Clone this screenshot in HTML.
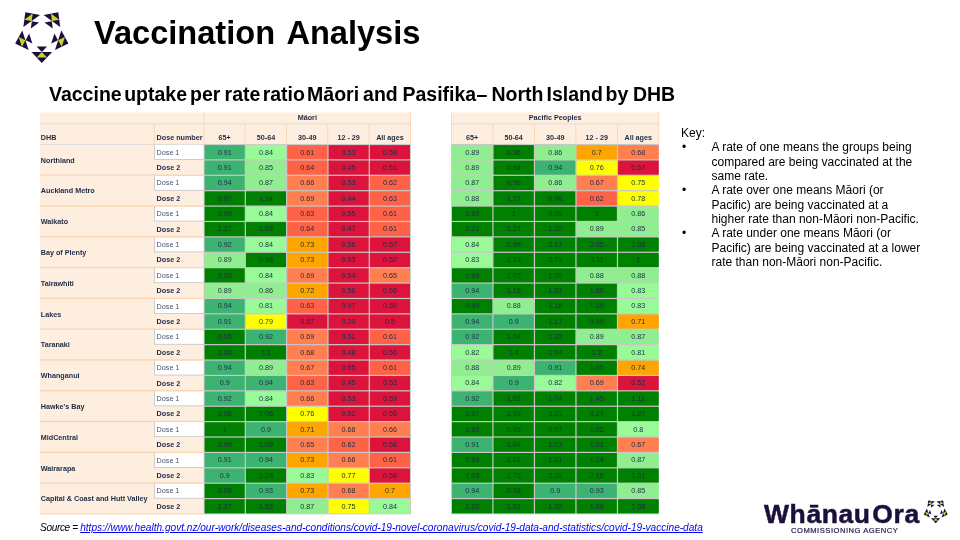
<!DOCTYPE html>
<html><head><meta charset="utf-8"><title>Vaccination Analysis</title>
<style>
html,body{margin:0;padding:0;background:#fff;}
body{width:960px;height:540px;position:relative;overflow:hidden;font-family:"Liberation Sans",sans-serif;color:#000;}
svg text{font-family:"Liberation Sans",sans-serif;font-size:7.2px;fill:#1C2B45;}
svg text.v{text-anchor:middle;}
svg text.b{font-weight:bold;}
svg text.d1{fill:#44536E;}
.abs{position:absolute;white-space:nowrap;will-change:transform;}
#title{left:93.5px;top:13.3px;font-size:32.6px;font-weight:bold;line-height:40px;word-spacing:3.5px;}
#sub{left:49px;top:82px;font-size:19.5px;font-weight:bold;line-height:24px;}
#sub span{position:absolute;top:0;}
#key{left:681px;top:125.6px;font-size:12px;line-height:14.35px;}
#key .li{position:relative;padding-left:30.5px;}
#key .li i{position:absolute;left:1px;top:0;font-style:normal;}
#src{left:40px;top:521.2px;font-size:10.1px;line-height:14px;font-style:italic;letter-spacing:-0.35px;}
#src span{position:absolute;left:40.2px;top:0;color:#0000F0;text-decoration:underline;letter-spacing:0;}
#wo{left:764px;top:498px;font-size:26.5px;font-weight:bold;line-height:32px;color:#1B0F3B;letter-spacing:0.6px;word-spacing:-6.3px;-webkit-text-stroke:0.5px #1B0F3B;}
#ca{left:791px;top:525.5px;font-size:7.6px;line-height:10px;color:#2A2050;letter-spacing:0.52px;-webkit-text-stroke:0.2px #2A2050;}
</style></head><body>
<svg width="960" height="540" viewBox="0 0 960 540" style="position:absolute;left:0;top:0;will-change:transform">
<g transform="translate(41.8 34.9) scale(1)">
<g transform="rotate(0)">
<polygon points="-10.3,17.2 10.3,17.2 0,28" fill="#1B0F3B"/>
<polygon points="0,17.2 -5.15,22.6 5.15,22.6" fill="#C9D42B"/>
<polygon points="-5.15,11.6 5.15,11.6 0,17" fill="#1B0F3B"/>
</g>
<g transform="rotate(72)">
<polygon points="-10.3,17.2 10.3,17.2 0,28" fill="#1B0F3B"/>
<polygon points="0,17.2 -5.15,22.6 5.15,22.6" fill="#C9D42B"/>
<polygon points="-5.15,11.6 5.15,11.6 0,17" fill="#1B0F3B"/>
</g>
<g transform="rotate(144)">
<polygon points="-10.3,17.2 10.3,17.2 0,28" fill="#1B0F3B"/>
<polygon points="0,17.2 -5.15,22.6 5.15,22.6" fill="#C9D42B"/>
<polygon points="-5.15,11.6 5.15,11.6 0,17" fill="#1B0F3B"/>
</g>
<g transform="rotate(216)">
<polygon points="-10.3,17.2 10.3,17.2 0,28" fill="#1B0F3B"/>
<polygon points="0,17.2 -5.15,22.6 5.15,22.6" fill="#C9D42B"/>
<polygon points="-5.15,11.6 5.15,11.6 0,17" fill="#1B0F3B"/>
</g>
<g transform="rotate(288)">
<polygon points="-10.3,17.2 10.3,17.2 0,28" fill="#1B0F3B"/>
<polygon points="0,17.2 -5.15,22.6 5.15,22.6" fill="#C9D42B"/>
<polygon points="-5.15,11.6 5.15,11.6 0,17" fill="#1B0F3B"/>
</g>
</g>
<g transform="translate(935.7 510.6) scale(0.45)">
<g transform="rotate(0)">
<polygon points="-10.3,17.2 10.3,17.2 0,28" fill="#1B0F3B"/>
<polygon points="0,17.2 -5.15,22.6 5.15,22.6" fill="#C9D42B"/>
<polygon points="-5.15,11.6 5.15,11.6 0,17" fill="#1B0F3B"/>
</g>
<g transform="rotate(72)">
<polygon points="-10.3,17.2 10.3,17.2 0,28" fill="#1B0F3B"/>
<polygon points="0,17.2 -5.15,22.6 5.15,22.6" fill="#C9D42B"/>
<polygon points="-5.15,11.6 5.15,11.6 0,17" fill="#1B0F3B"/>
</g>
<g transform="rotate(144)">
<polygon points="-10.3,17.2 10.3,17.2 0,28" fill="#1B0F3B"/>
<polygon points="0,17.2 -5.15,22.6 5.15,22.6" fill="#C9D42B"/>
<polygon points="-5.15,11.6 5.15,11.6 0,17" fill="#1B0F3B"/>
</g>
<g transform="rotate(216)">
<polygon points="-10.3,17.2 10.3,17.2 0,28" fill="#1B0F3B"/>
<polygon points="0,17.2 -5.15,22.6 5.15,22.6" fill="#C9D42B"/>
<polygon points="-5.15,11.6 5.15,11.6 0,17" fill="#1B0F3B"/>
</g>
<g transform="rotate(288)">
<polygon points="-10.3,17.2 10.3,17.2 0,28" fill="#1B0F3B"/>
<polygon points="0,17.2 -5.15,22.6 5.15,22.6" fill="#C9D42B"/>
<polygon points="-5.15,11.6 5.15,11.6 0,17" fill="#1B0F3B"/>
</g>
</g>
<rect x="40" y="112.5" width="370.6" height="401.5" fill="#FDEEE0"/>
<rect x="40" y="123.3" width="370.6" height="1" fill="#DCDCDC"/>
<rect x="40" y="143.9" width="370.6" height="1" fill="#DCDCDC"/>
<rect x="203.4" y="112.5" width="0.8" height="11.1" fill="#FBD3AE"/>
<rect x="410" y="112.5" width="0.8" height="32" fill="#FBD3AE"/>
<rect x="153.8" y="124.6" width="0.8" height="19.9" fill="#FBD3AE"/>
<rect x="203.4" y="124.6" width="0.8" height="19.9" fill="#FBD3AE"/>
<rect x="244.72" y="124.6" width="0.8" height="19.9" fill="#FBD3AE"/>
<rect x="286.04" y="124.6" width="0.8" height="19.9" fill="#FBD3AE"/>
<rect x="327.36" y="124.6" width="0.8" height="19.9" fill="#FBD3AE"/>
<rect x="368.68" y="124.6" width="0.8" height="19.9" fill="#FBD3AE"/>
<rect x="203.7" y="144.2" width="207.2" height="370.1" fill="#C8C8C8"/>
<rect x="204.6" y="145.1" width="40.12" height="14.2" fill="#3CB371"/>
<text x="224.66" y="154.5" class="v">0.91</text>
<rect x="245.92" y="145.1" width="40.12" height="14.2" fill="#98FB98"/>
<text x="265.98" y="154.5" class="v">0.84</text>
<rect x="287.24" y="145.1" width="40.12" height="14.2" fill="#FF6347"/>
<text x="307.3" y="154.5" class="v">0.61</text>
<rect x="328.56" y="145.1" width="40.12" height="14.2" fill="#DC143C"/>
<text x="348.62" y="154.5" class="v">0.53</text>
<rect x="369.88" y="145.1" width="40.12" height="14.2" fill="#DC143C"/>
<text x="389.94" y="154.5" class="v">0.58</text>
<rect x="154.1" y="144.7" width="49.9" height="15.2" fill="#C4C4C4"/>
<rect x="154.9" y="144.8" width="48.8" height="14.3" fill="#FFFFFF"/>
<text x="156.6" y="154.7" class="d1">Dose 1</text>
<text x="40.8" y="162.6" class="b">Northland</text>
<rect x="204.6" y="160.5" width="40.12" height="14.2" fill="#3CB371"/>
<text x="224.66" y="169.89" class="v">0.91</text>
<rect x="245.92" y="160.5" width="40.12" height="14.2" fill="#90EE90"/>
<text x="265.98" y="169.89" class="v">0.85</text>
<rect x="287.24" y="160.5" width="40.12" height="14.2" fill="#FF6347"/>
<text x="307.3" y="169.89" class="v">0.64</text>
<rect x="328.56" y="160.5" width="40.12" height="14.2" fill="#DC143C"/>
<text x="348.62" y="169.89" class="v">0.45</text>
<rect x="369.88" y="160.5" width="40.12" height="14.2" fill="#DC143C"/>
<text x="389.94" y="169.89" class="v">0.51</text>
<text x="156.6" y="170.09" class="b">Dose 2</text>
<rect x="204.6" y="175.89" width="40.12" height="14.2" fill="#3CB371"/>
<text x="224.66" y="185.29" class="v">0.94</text>
<rect x="245.92" y="175.89" width="40.12" height="14.2" fill="#90EE90"/>
<text x="265.98" y="185.29" class="v">0.87</text>
<rect x="287.24" y="175.89" width="40.12" height="14.2" fill="#FF7F50"/>
<text x="307.3" y="185.29" class="v">0.66</text>
<rect x="328.56" y="175.89" width="40.12" height="14.2" fill="#DC143C"/>
<text x="348.62" y="185.29" class="v">0.53</text>
<rect x="369.88" y="175.89" width="40.12" height="14.2" fill="#FF6347"/>
<text x="389.94" y="185.29" class="v">0.62</text>
<rect x="154.1" y="175.49" width="49.9" height="15.2" fill="#C4C4C4"/>
<rect x="154.9" y="175.59" width="48.8" height="14.3" fill="#FFFFFF"/>
<text x="156.6" y="185.49" class="d1">Dose 1</text>
<text x="40.8" y="193.39" class="b">Auckland Metro</text>
<rect x="204.6" y="191.29" width="40.12" height="14.2" fill="#008000"/>
<text x="224.66" y="200.69" class="v">0.97</text>
<rect x="245.92" y="191.29" width="40.12" height="14.2" fill="#008000"/>
<text x="265.98" y="200.69" class="v">1.14</text>
<rect x="287.24" y="191.29" width="40.12" height="14.2" fill="#FF7F50"/>
<text x="307.3" y="200.69" class="v">0.69</text>
<rect x="328.56" y="191.29" width="40.12" height="14.2" fill="#DC143C"/>
<text x="348.62" y="200.69" class="v">0.44</text>
<rect x="369.88" y="191.29" width="40.12" height="14.2" fill="#FF6347"/>
<text x="389.94" y="200.69" class="v">0.63</text>
<text x="156.6" y="200.89" class="b">Dose 2</text>
<rect x="204.6" y="206.68" width="40.12" height="14.2" fill="#008000"/>
<text x="224.66" y="216.08" class="v">0.99</text>
<rect x="245.92" y="206.68" width="40.12" height="14.2" fill="#98FB98"/>
<text x="265.98" y="216.08" class="v">0.84</text>
<rect x="287.24" y="206.68" width="40.12" height="14.2" fill="#FF6347"/>
<text x="307.3" y="216.08" class="v">0.63</text>
<rect x="328.56" y="206.68" width="40.12" height="14.2" fill="#DC143C"/>
<text x="348.62" y="216.08" class="v">0.55</text>
<rect x="369.88" y="206.68" width="40.12" height="14.2" fill="#FF6347"/>
<text x="389.94" y="216.08" class="v">0.61</text>
<rect x="154.1" y="206.28" width="49.9" height="15.2" fill="#C4C4C4"/>
<rect x="154.9" y="206.38" width="48.8" height="14.3" fill="#FFFFFF"/>
<text x="156.6" y="216.28" class="d1">Dose 1</text>
<text x="40.8" y="224.18" class="b">Waikato</text>
<rect x="204.6" y="222.08" width="40.12" height="14.2" fill="#008000"/>
<text x="224.66" y="231.48" class="v">1.17</text>
<rect x="245.92" y="222.08" width="40.12" height="14.2" fill="#008000"/>
<text x="265.98" y="231.48" class="v">1.03</text>
<rect x="287.24" y="222.08" width="40.12" height="14.2" fill="#FF6347"/>
<text x="307.3" y="231.48" class="v">0.64</text>
<rect x="328.56" y="222.08" width="40.12" height="14.2" fill="#DC143C"/>
<text x="348.62" y="231.48" class="v">0.47</text>
<rect x="369.88" y="222.08" width="40.12" height="14.2" fill="#FF6347"/>
<text x="389.94" y="231.48" class="v">0.61</text>
<text x="156.6" y="231.68" class="b">Dose 2</text>
<rect x="204.6" y="237.47" width="40.12" height="14.2" fill="#3CB371"/>
<text x="224.66" y="246.87" class="v">0.92</text>
<rect x="245.92" y="237.47" width="40.12" height="14.2" fill="#98FB98"/>
<text x="265.98" y="246.87" class="v">0.84</text>
<rect x="287.24" y="237.47" width="40.12" height="14.2" fill="#FFA500"/>
<text x="307.3" y="246.87" class="v">0.73</text>
<rect x="328.56" y="237.47" width="40.12" height="14.2" fill="#DC143C"/>
<text x="348.62" y="246.87" class="v">0.56</text>
<rect x="369.88" y="237.47" width="40.12" height="14.2" fill="#DC143C"/>
<text x="389.94" y="246.87" class="v">0.57</text>
<rect x="154.1" y="237.07" width="49.9" height="15.2" fill="#C4C4C4"/>
<rect x="154.9" y="237.18" width="48.8" height="14.3" fill="#FFFFFF"/>
<text x="156.6" y="247.07" class="d1">Dose 1</text>
<text x="40.8" y="254.97" class="b">Bay of Plenty</text>
<rect x="204.6" y="252.87" width="40.12" height="14.2" fill="#90EE90"/>
<text x="224.66" y="262.27" class="v">0.89</text>
<rect x="245.92" y="252.87" width="40.12" height="14.2" fill="#008000"/>
<text x="265.98" y="262.27" class="v">0.98</text>
<rect x="287.24" y="252.87" width="40.12" height="14.2" fill="#FFA500"/>
<text x="307.3" y="262.27" class="v">0.73</text>
<rect x="328.56" y="252.87" width="40.12" height="14.2" fill="#DC143C"/>
<text x="348.62" y="262.27" class="v">0.53</text>
<rect x="369.88" y="252.87" width="40.12" height="14.2" fill="#DC143C"/>
<text x="389.94" y="262.27" class="v">0.52</text>
<text x="156.6" y="262.47" class="b">Dose 2</text>
<rect x="204.6" y="268.27" width="40.12" height="14.2" fill="#008000"/>
<text x="224.66" y="277.66" class="v">0.95</text>
<rect x="245.92" y="268.27" width="40.12" height="14.2" fill="#98FB98"/>
<text x="265.98" y="277.66" class="v">0.84</text>
<rect x="287.24" y="268.27" width="40.12" height="14.2" fill="#FF7F50"/>
<text x="307.3" y="277.66" class="v">0.69</text>
<rect x="328.56" y="268.27" width="40.12" height="14.2" fill="#DC143C"/>
<text x="348.62" y="277.66" class="v">0.54</text>
<rect x="369.88" y="268.27" width="40.12" height="14.2" fill="#FF7F50"/>
<text x="389.94" y="277.66" class="v">0.65</text>
<rect x="154.1" y="267.87" width="49.9" height="15.2" fill="#C4C4C4"/>
<rect x="154.9" y="267.97" width="48.8" height="14.3" fill="#FFFFFF"/>
<text x="156.6" y="277.86" class="d1">Dose 1</text>
<text x="40.8" y="285.76" class="b">Tairawhiti</text>
<rect x="204.6" y="283.66" width="40.12" height="14.2" fill="#90EE90"/>
<text x="224.66" y="293.06" class="v">0.89</text>
<rect x="245.92" y="283.66" width="40.12" height="14.2" fill="#90EE90"/>
<text x="265.98" y="293.06" class="v">0.86</text>
<rect x="287.24" y="283.66" width="40.12" height="14.2" fill="#FFA500"/>
<text x="307.3" y="293.06" class="v">0.72</text>
<rect x="328.56" y="283.66" width="40.12" height="14.2" fill="#DC143C"/>
<text x="348.62" y="293.06" class="v">0.56</text>
<rect x="369.88" y="283.66" width="40.12" height="14.2" fill="#DC143C"/>
<text x="389.94" y="293.06" class="v">0.56</text>
<text x="156.6" y="293.26" class="b">Dose 2</text>
<rect x="204.6" y="299.06" width="40.12" height="14.2" fill="#3CB371"/>
<text x="224.66" y="308.46" class="v">0.94</text>
<rect x="245.92" y="299.06" width="40.12" height="14.2" fill="#98FB98"/>
<text x="265.98" y="308.46" class="v">0.81</text>
<rect x="287.24" y="299.06" width="40.12" height="14.2" fill="#FF6347"/>
<text x="307.3" y="308.46" class="v">0.63</text>
<rect x="328.56" y="299.06" width="40.12" height="14.2" fill="#DC143C"/>
<text x="348.62" y="308.46" class="v">0.47</text>
<rect x="369.88" y="299.06" width="40.12" height="14.2" fill="#DC143C"/>
<text x="389.94" y="308.46" class="v">0.56</text>
<rect x="154.1" y="298.66" width="49.9" height="15.2" fill="#C4C4C4"/>
<rect x="154.9" y="298.76" width="48.8" height="14.3" fill="#FFFFFF"/>
<text x="156.6" y="308.66" class="d1">Dose 1</text>
<text x="40.8" y="316.55" class="b">Lakes</text>
<rect x="204.6" y="314.45" width="40.12" height="14.2" fill="#3CB371"/>
<text x="224.66" y="323.85" class="v">0.91</text>
<rect x="245.92" y="314.45" width="40.12" height="14.2" fill="#FFFF00"/>
<text x="265.98" y="323.85" class="v">0.79</text>
<rect x="287.24" y="314.45" width="40.12" height="14.2" fill="#DC143C"/>
<text x="307.3" y="323.85" class="v">0.57</text>
<rect x="328.56" y="314.45" width="40.12" height="14.2" fill="#DC143C"/>
<text x="348.62" y="323.85" class="v">0.39</text>
<rect x="369.88" y="314.45" width="40.12" height="14.2" fill="#DC143C"/>
<text x="389.94" y="323.85" class="v">0.5</text>
<text x="156.6" y="324.05" class="b">Dose 2</text>
<rect x="204.6" y="329.85" width="40.12" height="14.2" fill="#008000"/>
<text x="224.66" y="339.25" class="v">0.95</text>
<rect x="245.92" y="329.85" width="40.12" height="14.2" fill="#3CB371"/>
<text x="265.98" y="339.25" class="v">0.92</text>
<rect x="287.24" y="329.85" width="40.12" height="14.2" fill="#FF7F50"/>
<text x="307.3" y="339.25" class="v">0.69</text>
<rect x="328.56" y="329.85" width="40.12" height="14.2" fill="#DC143C"/>
<text x="348.62" y="339.25" class="v">0.51</text>
<rect x="369.88" y="329.85" width="40.12" height="14.2" fill="#FF6347"/>
<text x="389.94" y="339.25" class="v">0.61</text>
<rect x="154.1" y="329.45" width="49.9" height="15.2" fill="#C4C4C4"/>
<rect x="154.9" y="329.55" width="48.8" height="14.3" fill="#FFFFFF"/>
<text x="156.6" y="339.45" class="d1">Dose 1</text>
<text x="40.8" y="347.35" class="b">Taranaki</text>
<rect x="204.6" y="345.25" width="40.12" height="14.2" fill="#008000"/>
<text x="224.66" y="354.64" class="v">1.03</text>
<rect x="245.92" y="345.25" width="40.12" height="14.2" fill="#008000"/>
<text x="265.98" y="354.64" class="v">1.1</text>
<rect x="287.24" y="345.25" width="40.12" height="14.2" fill="#FF7F50"/>
<text x="307.3" y="354.64" class="v">0.68</text>
<rect x="328.56" y="345.25" width="40.12" height="14.2" fill="#DC143C"/>
<text x="348.62" y="354.64" class="v">0.48</text>
<rect x="369.88" y="345.25" width="40.12" height="14.2" fill="#DC143C"/>
<text x="389.94" y="354.64" class="v">0.56</text>
<text x="156.6" y="354.84" class="b">Dose 2</text>
<rect x="204.6" y="360.64" width="40.12" height="14.2" fill="#3CB371"/>
<text x="224.66" y="370.04" class="v">0.94</text>
<rect x="245.92" y="360.64" width="40.12" height="14.2" fill="#90EE90"/>
<text x="265.98" y="370.04" class="v">0.89</text>
<rect x="287.24" y="360.64" width="40.12" height="14.2" fill="#FF7F50"/>
<text x="307.3" y="370.04" class="v">0.67</text>
<rect x="328.56" y="360.64" width="40.12" height="14.2" fill="#DC143C"/>
<text x="348.62" y="370.04" class="v">0.55</text>
<rect x="369.88" y="360.64" width="40.12" height="14.2" fill="#FF6347"/>
<text x="389.94" y="370.04" class="v">0.61</text>
<rect x="154.1" y="360.24" width="49.9" height="15.2" fill="#C4C4C4"/>
<rect x="154.9" y="360.34" width="48.8" height="14.3" fill="#FFFFFF"/>
<text x="156.6" y="370.24" class="d1">Dose 1</text>
<text x="40.8" y="378.14" class="b">Whanganui</text>
<rect x="204.6" y="376.04" width="40.12" height="14.2" fill="#3CB371"/>
<text x="224.66" y="385.44" class="v">0.9</text>
<rect x="245.92" y="376.04" width="40.12" height="14.2" fill="#3CB371"/>
<text x="265.98" y="385.44" class="v">0.94</text>
<rect x="287.24" y="376.04" width="40.12" height="14.2" fill="#FF6347"/>
<text x="307.3" y="385.44" class="v">0.63</text>
<rect x="328.56" y="376.04" width="40.12" height="14.2" fill="#DC143C"/>
<text x="348.62" y="385.44" class="v">0.45</text>
<rect x="369.88" y="376.04" width="40.12" height="14.2" fill="#DC143C"/>
<text x="389.94" y="385.44" class="v">0.53</text>
<text x="156.6" y="385.64" class="b">Dose 2</text>
<rect x="204.6" y="391.43" width="40.12" height="14.2" fill="#3CB371"/>
<text x="224.66" y="400.83" class="v">0.92</text>
<rect x="245.92" y="391.43" width="40.12" height="14.2" fill="#98FB98"/>
<text x="265.98" y="400.83" class="v">0.84</text>
<rect x="287.24" y="391.43" width="40.12" height="14.2" fill="#FF7F50"/>
<text x="307.3" y="400.83" class="v">0.66</text>
<rect x="328.56" y="391.43" width="40.12" height="14.2" fill="#DC143C"/>
<text x="348.62" y="400.83" class="v">0.53</text>
<rect x="369.88" y="391.43" width="40.12" height="14.2" fill="#DC143C"/>
<text x="389.94" y="400.83" class="v">0.59</text>
<rect x="154.1" y="391.03" width="49.9" height="15.2" fill="#C4C4C4"/>
<rect x="154.9" y="391.13" width="48.8" height="14.3" fill="#FFFFFF"/>
<text x="156.6" y="401.03" class="d1">Dose 1</text>
<text x="40.8" y="408.93" class="b">Hawke's Bay</text>
<rect x="204.6" y="406.83" width="40.12" height="14.2" fill="#008000"/>
<text x="224.66" y="416.23" class="v">0.96</text>
<rect x="245.92" y="406.83" width="40.12" height="14.2" fill="#008000"/>
<text x="265.98" y="416.23" class="v">1.06</text>
<rect x="287.24" y="406.83" width="40.12" height="14.2" fill="#FFFF00"/>
<text x="307.3" y="416.23" class="v">0.76</text>
<rect x="328.56" y="406.83" width="40.12" height="14.2" fill="#DC143C"/>
<text x="348.62" y="416.23" class="v">0.52</text>
<rect x="369.88" y="406.83" width="40.12" height="14.2" fill="#DC143C"/>
<text x="389.94" y="416.23" class="v">0.56</text>
<text x="156.6" y="416.43" class="b">Dose 2</text>
<rect x="204.6" y="422.23" width="40.12" height="14.2" fill="#008000"/>
<text x="224.66" y="431.62" class="v">1</text>
<rect x="245.92" y="422.23" width="40.12" height="14.2" fill="#3CB371"/>
<text x="265.98" y="431.62" class="v">0.9</text>
<rect x="287.24" y="422.23" width="40.12" height="14.2" fill="#FFA500"/>
<text x="307.3" y="431.62" class="v">0.71</text>
<rect x="328.56" y="422.23" width="40.12" height="14.2" fill="#FF7F50"/>
<text x="348.62" y="431.62" class="v">0.68</text>
<rect x="369.88" y="422.23" width="40.12" height="14.2" fill="#FF7F50"/>
<text x="389.94" y="431.62" class="v">0.66</text>
<rect x="154.1" y="421.82" width="49.9" height="15.2" fill="#C4C4C4"/>
<rect x="154.9" y="421.93" width="48.8" height="14.3" fill="#FFFFFF"/>
<text x="156.6" y="431.82" class="d1">Dose 1</text>
<text x="40.8" y="439.72" class="b">MidCentral</text>
<rect x="204.6" y="437.62" width="40.12" height="14.2" fill="#008000"/>
<text x="224.66" y="447.02" class="v">0.99</text>
<rect x="245.92" y="437.62" width="40.12" height="14.2" fill="#008000"/>
<text x="265.98" y="447.02" class="v">1.09</text>
<rect x="287.24" y="437.62" width="40.12" height="14.2" fill="#FF7F50"/>
<text x="307.3" y="447.02" class="v">0.65</text>
<rect x="328.56" y="437.62" width="40.12" height="14.2" fill="#FF6347"/>
<text x="348.62" y="447.02" class="v">0.62</text>
<rect x="369.88" y="437.62" width="40.12" height="14.2" fill="#DC143C"/>
<text x="389.94" y="447.02" class="v">0.58</text>
<text x="156.6" y="447.22" class="b">Dose 2</text>
<rect x="204.6" y="453.02" width="40.12" height="14.2" fill="#3CB371"/>
<text x="224.66" y="462.41" class="v">0.91</text>
<rect x="245.92" y="453.02" width="40.12" height="14.2" fill="#3CB371"/>
<text x="265.98" y="462.41" class="v">0.94</text>
<rect x="287.24" y="453.02" width="40.12" height="14.2" fill="#FFA500"/>
<text x="307.3" y="462.41" class="v">0.73</text>
<rect x="328.56" y="453.02" width="40.12" height="14.2" fill="#FF7F50"/>
<text x="348.62" y="462.41" class="v">0.66</text>
<rect x="369.88" y="453.02" width="40.12" height="14.2" fill="#FF6347"/>
<text x="389.94" y="462.41" class="v">0.61</text>
<rect x="154.1" y="452.62" width="49.9" height="15.2" fill="#C4C4C4"/>
<rect x="154.9" y="452.72" width="48.8" height="14.3" fill="#FFFFFF"/>
<text x="156.6" y="462.61" class="d1">Dose 1</text>
<text x="40.8" y="470.51" class="b">Wairarapa</text>
<rect x="204.6" y="468.41" width="40.12" height="14.2" fill="#3CB371"/>
<text x="224.66" y="477.81" class="v">0.9</text>
<rect x="245.92" y="468.41" width="40.12" height="14.2" fill="#008000"/>
<text x="265.98" y="477.81" class="v">1.28</text>
<rect x="287.24" y="468.41" width="40.12" height="14.2" fill="#98FB98"/>
<text x="307.3" y="477.81" class="v">0.83</text>
<rect x="328.56" y="468.41" width="40.12" height="14.2" fill="#FFFF00"/>
<text x="348.62" y="477.81" class="v">0.77</text>
<rect x="369.88" y="468.41" width="40.12" height="14.2" fill="#DC143C"/>
<text x="389.94" y="477.81" class="v">0.58</text>
<text x="156.6" y="478.01" class="b">Dose 2</text>
<rect x="204.6" y="483.81" width="40.12" height="14.2" fill="#008000"/>
<text x="224.66" y="493.21" class="v">0.98</text>
<rect x="245.92" y="483.81" width="40.12" height="14.2" fill="#3CB371"/>
<text x="265.98" y="493.21" class="v">0.93</text>
<rect x="287.24" y="483.81" width="40.12" height="14.2" fill="#FFA500"/>
<text x="307.3" y="493.21" class="v">0.73</text>
<rect x="328.56" y="483.81" width="40.12" height="14.2" fill="#FF7F50"/>
<text x="348.62" y="493.21" class="v">0.68</text>
<rect x="369.88" y="483.81" width="40.12" height="14.2" fill="#FFA500"/>
<text x="389.94" y="493.21" class="v">0.7</text>
<rect x="154.1" y="483.41" width="49.9" height="15.2" fill="#C4C4C4"/>
<rect x="154.9" y="483.51" width="48.8" height="14.3" fill="#FFFFFF"/>
<text x="156.6" y="493.41" class="d1">Dose 1</text>
<text x="40.8" y="501.3" class="b">Capital &amp; Coast and Hutt Valley</text>
<rect x="204.6" y="499.2" width="40.12" height="14.2" fill="#008000"/>
<text x="224.66" y="508.6" class="v">1.27</text>
<rect x="245.92" y="499.2" width="40.12" height="14.2" fill="#008000"/>
<text x="265.98" y="508.6" class="v">1.53</text>
<rect x="287.24" y="499.2" width="40.12" height="14.2" fill="#90EE90"/>
<text x="307.3" y="508.6" class="v">0.87</text>
<rect x="328.56" y="499.2" width="40.12" height="14.2" fill="#FFFF00"/>
<text x="348.62" y="508.6" class="v">0.75</text>
<rect x="369.88" y="499.2" width="40.12" height="14.2" fill="#98FB98"/>
<text x="389.94" y="508.6" class="v">0.84</text>
<text x="156.6" y="508.8" class="b">Dose 2</text>
<rect x="40" y="174.59" width="163.7" height="1.2" fill="#FBD3AE"/>
<rect x="40" y="205.38" width="163.7" height="1.2" fill="#FBD3AE"/>
<rect x="40" y="236.18" width="163.7" height="1.2" fill="#FBD3AE"/>
<rect x="40" y="266.97" width="163.7" height="1.2" fill="#FBD3AE"/>
<rect x="40" y="297.76" width="163.7" height="1.2" fill="#FBD3AE"/>
<rect x="40" y="328.55" width="163.7" height="1.2" fill="#FBD3AE"/>
<rect x="40" y="359.34" width="163.7" height="1.2" fill="#FBD3AE"/>
<rect x="40" y="390.13" width="163.7" height="1.2" fill="#FBD3AE"/>
<rect x="40" y="420.93" width="163.7" height="1.2" fill="#FBD3AE"/>
<rect x="40" y="451.72" width="163.7" height="1.2" fill="#FBD3AE"/>
<rect x="40" y="482.51" width="163.7" height="1.2" fill="#FBD3AE"/>
<rect x="40" y="513.3" width="163.7" height="1.2" fill="#FBD3AE"/>
<text x="307.3" y="120.2" class="b" text-anchor="middle">Māori</text>
<text x="40.8" y="140" class="b">DHB</text>
<text x="156.6" y="140" class="b">Dose number</text>
<text x="224.66" y="140" class="b" text-anchor="middle">65+</text>
<text x="265.98" y="140" class="b" text-anchor="middle">50-64</text>
<text x="307.3" y="140" class="b" text-anchor="middle">30-49</text>
<text x="348.62" y="140" class="b" text-anchor="middle">12 - 29</text>
<text x="389.94" y="140" class="b" text-anchor="middle">All ages</text>
<rect x="451.4" y="112.5" width="207.6" height="32" fill="#FDEEE0"/>
<rect x="451.4" y="123.3" width="207.6" height="1" fill="#DCDCDC"/>
<rect x="451.2" y="112.5" width="0.8" height="32" fill="#FBD3AE"/>
<rect x="658.4" y="112.5" width="0.8" height="32" fill="#FBD3AE"/>
<rect x="492.52" y="124.6" width="0.8" height="19.9" fill="#FBD3AE"/>
<rect x="534.04" y="124.6" width="0.8" height="19.9" fill="#FBD3AE"/>
<rect x="575.56" y="124.6" width="0.8" height="19.9" fill="#FBD3AE"/>
<rect x="617.08" y="124.6" width="0.8" height="19.9" fill="#FBD3AE"/>
<rect x="451.1" y="143.9" width="207.3" height="370.4" fill="#C8C8C8"/>
<rect x="452" y="145.1" width="40.32" height="14.2" fill="#90EE90"/>
<text x="472.16" y="154.5" class="v">0.89</text>
<rect x="493.52" y="145.1" width="40.32" height="14.2" fill="#008000"/>
<text x="513.68" y="154.5" class="v">0.96</text>
<rect x="535.04" y="145.1" width="40.32" height="14.2" fill="#90EE90"/>
<text x="555.2" y="154.5" class="v">0.86</text>
<rect x="576.56" y="145.1" width="40.32" height="14.2" fill="#FFA500"/>
<text x="596.72" y="154.5" class="v">0.7</text>
<rect x="618.08" y="145.1" width="40.72" height="14.2" fill="#FF7F50"/>
<text x="638.24" y="154.5" class="v">0.68</text>
<rect x="452" y="160.5" width="40.32" height="14.2" fill="#90EE90"/>
<text x="472.16" y="169.89" class="v">0.89</text>
<rect x="493.52" y="160.5" width="40.32" height="14.2" fill="#008000"/>
<text x="513.68" y="169.89" class="v">0.98</text>
<rect x="535.04" y="160.5" width="40.32" height="14.2" fill="#3CB371"/>
<text x="555.2" y="169.89" class="v">0.94</text>
<rect x="576.56" y="160.5" width="40.32" height="14.2" fill="#FFFF00"/>
<text x="596.72" y="169.89" class="v">0.76</text>
<rect x="618.08" y="160.5" width="40.72" height="14.2" fill="#DC143C"/>
<text x="638.24" y="169.89" class="v">0.57</text>
<rect x="452" y="175.89" width="40.32" height="14.2" fill="#90EE90"/>
<text x="472.16" y="185.29" class="v">0.87</text>
<rect x="493.52" y="175.89" width="40.32" height="14.2" fill="#008000"/>
<text x="513.68" y="185.29" class="v">0.95</text>
<rect x="535.04" y="175.89" width="40.32" height="14.2" fill="#90EE90"/>
<text x="555.2" y="185.29" class="v">0.86</text>
<rect x="576.56" y="175.89" width="40.32" height="14.2" fill="#FF7F50"/>
<text x="596.72" y="185.29" class="v">0.67</text>
<rect x="618.08" y="175.89" width="40.72" height="14.2" fill="#FFFF00"/>
<text x="638.24" y="185.29" class="v">0.75</text>
<rect x="452" y="191.29" width="40.32" height="14.2" fill="#90EE90"/>
<text x="472.16" y="200.69" class="v">0.88</text>
<rect x="493.52" y="191.29" width="40.32" height="14.2" fill="#008000"/>
<text x="513.68" y="200.69" class="v">1.27</text>
<rect x="535.04" y="191.29" width="40.32" height="14.2" fill="#008000"/>
<text x="555.2" y="200.69" class="v">0.98</text>
<rect x="576.56" y="191.29" width="40.32" height="14.2" fill="#FF6347"/>
<text x="596.72" y="200.69" class="v">0.62</text>
<rect x="618.08" y="191.29" width="40.72" height="14.2" fill="#FFFF00"/>
<text x="638.24" y="200.69" class="v">0.78</text>
<rect x="452" y="206.68" width="40.32" height="14.2" fill="#008000"/>
<text x="472.16" y="216.08" class="v">0.99</text>
<rect x="493.52" y="206.68" width="40.32" height="14.2" fill="#008000"/>
<text x="513.68" y="216.08" class="v">1</text>
<rect x="535.04" y="206.68" width="40.32" height="14.2" fill="#008000"/>
<text x="555.2" y="216.08" class="v">0.98</text>
<rect x="576.56" y="206.68" width="40.32" height="14.2" fill="#008000"/>
<text x="596.72" y="216.08" class="v">1</text>
<rect x="618.08" y="206.68" width="40.72" height="14.2" fill="#90EE90"/>
<text x="638.24" y="216.08" class="v">0.86</text>
<rect x="452" y="222.08" width="40.32" height="14.2" fill="#008000"/>
<text x="472.16" y="231.48" class="v">1.21</text>
<rect x="493.52" y="222.08" width="40.32" height="14.2" fill="#008000"/>
<text x="513.68" y="231.48" class="v">1.24</text>
<rect x="535.04" y="222.08" width="40.32" height="14.2" fill="#008000"/>
<text x="555.2" y="231.48" class="v">1.22</text>
<rect x="576.56" y="222.08" width="40.32" height="14.2" fill="#90EE90"/>
<text x="596.72" y="231.48" class="v">0.89</text>
<rect x="618.08" y="222.08" width="40.72" height="14.2" fill="#90EE90"/>
<text x="638.24" y="231.48" class="v">0.85</text>
<rect x="452" y="237.47" width="40.32" height="14.2" fill="#98FB98"/>
<text x="472.16" y="246.87" class="v">0.84</text>
<rect x="493.52" y="237.47" width="40.32" height="14.2" fill="#008000"/>
<text x="513.68" y="246.87" class="v">0.99</text>
<rect x="535.04" y="237.47" width="40.32" height="14.2" fill="#008000"/>
<text x="555.2" y="246.87" class="v">2.17</text>
<rect x="576.56" y="237.47" width="40.32" height="14.2" fill="#008000"/>
<text x="596.72" y="246.87" class="v">2.05</text>
<rect x="618.08" y="237.47" width="40.72" height="14.2" fill="#008000"/>
<text x="638.24" y="246.87" class="v">1.08</text>
<rect x="452" y="252.87" width="40.32" height="14.2" fill="#98FB98"/>
<text x="472.16" y="262.27" class="v">0.83</text>
<rect x="493.52" y="252.87" width="40.32" height="14.2" fill="#008000"/>
<text x="513.68" y="262.27" class="v">1.13</text>
<rect x="535.04" y="252.87" width="40.32" height="14.2" fill="#008000"/>
<text x="555.2" y="262.27" class="v">2.73</text>
<rect x="576.56" y="252.87" width="40.32" height="14.2" fill="#008000"/>
<text x="596.72" y="262.27" class="v">3.11</text>
<rect x="618.08" y="252.87" width="40.72" height="14.2" fill="#008000"/>
<text x="638.24" y="262.27" class="v">1</text>
<rect x="452" y="268.27" width="40.32" height="14.2" fill="#008000"/>
<text x="472.16" y="277.66" class="v">0.99</text>
<rect x="493.52" y="268.27" width="40.32" height="14.2" fill="#008000"/>
<text x="513.68" y="277.66" class="v">1.05</text>
<rect x="535.04" y="268.27" width="40.32" height="14.2" fill="#008000"/>
<text x="555.2" y="277.66" class="v">1.06</text>
<rect x="576.56" y="268.27" width="40.32" height="14.2" fill="#90EE90"/>
<text x="596.72" y="277.66" class="v">0.88</text>
<rect x="618.08" y="268.27" width="40.72" height="14.2" fill="#90EE90"/>
<text x="638.24" y="277.66" class="v">0.88</text>
<rect x="452" y="283.66" width="40.32" height="14.2" fill="#3CB371"/>
<text x="472.16" y="293.06" class="v">0.94</text>
<rect x="493.52" y="283.66" width="40.32" height="14.2" fill="#008000"/>
<text x="513.68" y="293.06" class="v">1.15</text>
<rect x="535.04" y="283.66" width="40.32" height="14.2" fill="#008000"/>
<text x="555.2" y="293.06" class="v">1.37</text>
<rect x="576.56" y="283.66" width="40.32" height="14.2" fill="#008000"/>
<text x="596.72" y="293.06" class="v">1.65</text>
<rect x="618.08" y="283.66" width="40.72" height="14.2" fill="#98FB98"/>
<text x="638.24" y="293.06" class="v">0.83</text>
<rect x="452" y="299.06" width="40.32" height="14.2" fill="#008000"/>
<text x="472.16" y="308.46" class="v">0.99</text>
<rect x="493.52" y="299.06" width="40.32" height="14.2" fill="#90EE90"/>
<text x="513.68" y="308.46" class="v">0.88</text>
<rect x="535.04" y="299.06" width="40.32" height="14.2" fill="#008000"/>
<text x="555.2" y="308.46" class="v">1.16</text>
<rect x="576.56" y="299.06" width="40.32" height="14.2" fill="#008000"/>
<text x="596.72" y="308.46" class="v">1.09</text>
<rect x="618.08" y="299.06" width="40.72" height="14.2" fill="#98FB98"/>
<text x="638.24" y="308.46" class="v">0.83</text>
<rect x="452" y="314.45" width="40.32" height="14.2" fill="#3CB371"/>
<text x="472.16" y="323.85" class="v">0.94</text>
<rect x="493.52" y="314.45" width="40.32" height="14.2" fill="#3CB371"/>
<text x="513.68" y="323.85" class="v">0.9</text>
<rect x="535.04" y="314.45" width="40.32" height="14.2" fill="#008000"/>
<text x="555.2" y="323.85" class="v">1.17</text>
<rect x="576.56" y="314.45" width="40.32" height="14.2" fill="#008000"/>
<text x="596.72" y="323.85" class="v">0.99</text>
<rect x="618.08" y="314.45" width="40.72" height="14.2" fill="#FFA500"/>
<text x="638.24" y="323.85" class="v">0.71</text>
<rect x="452" y="329.85" width="40.32" height="14.2" fill="#3CB371"/>
<text x="472.16" y="339.25" class="v">0.92</text>
<rect x="493.52" y="329.85" width="40.32" height="14.2" fill="#008000"/>
<text x="513.68" y="339.25" class="v">1.04</text>
<rect x="535.04" y="329.85" width="40.32" height="14.2" fill="#008000"/>
<text x="555.2" y="339.25" class="v">1.35</text>
<rect x="576.56" y="329.85" width="40.32" height="14.2" fill="#90EE90"/>
<text x="596.72" y="339.25" class="v">0.89</text>
<rect x="618.08" y="329.85" width="40.72" height="14.2" fill="#90EE90"/>
<text x="638.24" y="339.25" class="v">0.87</text>
<rect x="452" y="345.25" width="40.32" height="14.2" fill="#98FB98"/>
<text x="472.16" y="354.64" class="v">0.82</text>
<rect x="493.52" y="345.25" width="40.32" height="14.2" fill="#008000"/>
<text x="513.68" y="354.64" class="v">1.4</text>
<rect x="535.04" y="345.25" width="40.32" height="14.2" fill="#008000"/>
<text x="555.2" y="354.64" class="v">1.94</text>
<rect x="576.56" y="345.25" width="40.32" height="14.2" fill="#008000"/>
<text x="596.72" y="354.64" class="v">1.2</text>
<rect x="618.08" y="345.25" width="40.72" height="14.2" fill="#98FB98"/>
<text x="638.24" y="354.64" class="v">0.81</text>
<rect x="452" y="360.64" width="40.32" height="14.2" fill="#90EE90"/>
<text x="472.16" y="370.04" class="v">0.88</text>
<rect x="493.52" y="360.64" width="40.32" height="14.2" fill="#90EE90"/>
<text x="513.68" y="370.04" class="v">0.89</text>
<rect x="535.04" y="360.64" width="40.32" height="14.2" fill="#3CB371"/>
<text x="555.2" y="370.04" class="v">0.91</text>
<rect x="576.56" y="360.64" width="40.32" height="14.2" fill="#008000"/>
<text x="596.72" y="370.04" class="v">1.05</text>
<rect x="618.08" y="360.64" width="40.72" height="14.2" fill="#FFA500"/>
<text x="638.24" y="370.04" class="v">0.74</text>
<rect x="452" y="376.04" width="40.32" height="14.2" fill="#98FB98"/>
<text x="472.16" y="385.44" class="v">0.84</text>
<rect x="493.52" y="376.04" width="40.32" height="14.2" fill="#3CB371"/>
<text x="513.68" y="385.44" class="v">0.9</text>
<rect x="535.04" y="376.04" width="40.32" height="14.2" fill="#98FB98"/>
<text x="555.2" y="385.44" class="v">0.82</text>
<rect x="576.56" y="376.04" width="40.32" height="14.2" fill="#FF7F50"/>
<text x="596.72" y="385.44" class="v">0.69</text>
<rect x="618.08" y="376.04" width="40.72" height="14.2" fill="#DC143C"/>
<text x="638.24" y="385.44" class="v">0.52</text>
<rect x="452" y="391.43" width="40.32" height="14.2" fill="#3CB371"/>
<text x="472.16" y="400.83" class="v">0.92</text>
<rect x="493.52" y="391.43" width="40.32" height="14.2" fill="#008000"/>
<text x="513.68" y="400.83" class="v">1.03</text>
<rect x="535.04" y="391.43" width="40.32" height="14.2" fill="#008000"/>
<text x="555.2" y="400.83" class="v">1.74</text>
<rect x="576.56" y="391.43" width="40.32" height="14.2" fill="#008000"/>
<text x="596.72" y="400.83" class="v">1.45</text>
<rect x="618.08" y="391.43" width="40.72" height="14.2" fill="#008000"/>
<text x="638.24" y="400.83" class="v">1.11</text>
<rect x="452" y="406.83" width="40.32" height="14.2" fill="#008000"/>
<text x="472.16" y="416.23" class="v">0.97</text>
<rect x="493.52" y="406.83" width="40.32" height="14.2" fill="#008000"/>
<text x="513.68" y="416.23" class="v">1.39</text>
<rect x="535.04" y="406.83" width="40.32" height="14.2" fill="#008000"/>
<text x="555.2" y="416.23" class="v">3.23</text>
<rect x="576.56" y="406.83" width="40.32" height="14.2" fill="#008000"/>
<text x="596.72" y="416.23" class="v">3.27</text>
<rect x="618.08" y="406.83" width="40.72" height="14.2" fill="#008000"/>
<text x="638.24" y="416.23" class="v">1.27</text>
<rect x="452" y="422.23" width="40.32" height="14.2" fill="#008000"/>
<text x="472.16" y="431.62" class="v">0.99</text>
<rect x="493.52" y="422.23" width="40.32" height="14.2" fill="#008000"/>
<text x="513.68" y="431.62" class="v">0.95</text>
<rect x="535.04" y="422.23" width="40.32" height="14.2" fill="#008000"/>
<text x="555.2" y="431.62" class="v">0.97</text>
<rect x="576.56" y="422.23" width="40.32" height="14.2" fill="#008000"/>
<text x="596.72" y="431.62" class="v">1.02</text>
<rect x="618.08" y="422.23" width="40.72" height="14.2" fill="#98FB98"/>
<text x="638.24" y="431.62" class="v">0.8</text>
<rect x="452" y="437.62" width="40.32" height="14.2" fill="#3CB371"/>
<text x="472.16" y="447.02" class="v">0.91</text>
<rect x="493.52" y="437.62" width="40.32" height="14.2" fill="#008000"/>
<text x="513.68" y="447.02" class="v">1.04</text>
<rect x="535.04" y="437.62" width="40.32" height="14.2" fill="#008000"/>
<text x="555.2" y="447.02" class="v">1.03</text>
<rect x="576.56" y="437.62" width="40.32" height="14.2" fill="#008000"/>
<text x="596.72" y="447.02" class="v">1.01</text>
<rect x="618.08" y="437.62" width="40.72" height="14.2" fill="#FF7F50"/>
<text x="638.24" y="447.02" class="v">0.67</text>
<rect x="452" y="453.02" width="40.32" height="14.2" fill="#008000"/>
<text x="472.16" y="462.41" class="v">0.99</text>
<rect x="493.52" y="453.02" width="40.32" height="14.2" fill="#008000"/>
<text x="513.68" y="462.41" class="v">1.12</text>
<rect x="535.04" y="453.02" width="40.32" height="14.2" fill="#008000"/>
<text x="555.2" y="462.41" class="v">1.31</text>
<rect x="576.56" y="453.02" width="40.32" height="14.2" fill="#008000"/>
<text x="596.72" y="462.41" class="v">1.14</text>
<rect x="618.08" y="453.02" width="40.72" height="14.2" fill="#90EE90"/>
<text x="638.24" y="462.41" class="v">0.87</text>
<rect x="452" y="468.41" width="40.32" height="14.2" fill="#008000"/>
<text x="472.16" y="477.81" class="v">1.03</text>
<rect x="493.52" y="468.41" width="40.32" height="14.2" fill="#008000"/>
<text x="513.68" y="477.81" class="v">1.75</text>
<rect x="535.04" y="468.41" width="40.32" height="14.2" fill="#008000"/>
<text x="555.2" y="477.81" class="v">2.38</text>
<rect x="576.56" y="468.41" width="40.32" height="14.2" fill="#008000"/>
<text x="596.72" y="477.81" class="v">2.16</text>
<rect x="618.08" y="468.41" width="40.72" height="14.2" fill="#008000"/>
<text x="638.24" y="477.81" class="v">1.01</text>
<rect x="452" y="483.81" width="40.32" height="14.2" fill="#3CB371"/>
<text x="472.16" y="493.21" class="v">0.94</text>
<rect x="493.52" y="483.81" width="40.32" height="14.2" fill="#008000"/>
<text x="513.68" y="493.21" class="v">0.98</text>
<rect x="535.04" y="483.81" width="40.32" height="14.2" fill="#3CB371"/>
<text x="555.2" y="493.21" class="v">0.9</text>
<rect x="576.56" y="483.81" width="40.32" height="14.2" fill="#3CB371"/>
<text x="596.72" y="493.21" class="v">0.93</text>
<rect x="618.08" y="483.81" width="40.72" height="14.2" fill="#90EE90"/>
<text x="638.24" y="493.21" class="v">0.85</text>
<rect x="452" y="499.2" width="40.32" height="14.2" fill="#008000"/>
<text x="472.16" y="508.6" class="v">1.22</text>
<rect x="493.52" y="499.2" width="40.32" height="14.2" fill="#008000"/>
<text x="513.68" y="508.6" class="v">1.62</text>
<rect x="535.04" y="499.2" width="40.32" height="14.2" fill="#008000"/>
<text x="555.2" y="508.6" class="v">1.22</text>
<rect x="576.56" y="499.2" width="40.32" height="14.2" fill="#008000"/>
<text x="596.72" y="508.6" class="v">1.08</text>
<rect x="618.08" y="499.2" width="40.72" height="14.2" fill="#008000"/>
<text x="638.24" y="508.6" class="v">1.08</text>
<text x="555.2" y="120.2" class="b" text-anchor="middle">Pacific Peoples</text>
<text x="472.16" y="140" class="b" text-anchor="middle">65+</text>
<text x="513.68" y="140" class="b" text-anchor="middle">50-64</text>
<text x="555.2" y="140" class="b" text-anchor="middle">30-49</text>
<text x="596.72" y="140" class="b" text-anchor="middle">12 - 29</text>
<text x="638.24" y="140" class="b" text-anchor="middle">All ages</text>
</svg>
<div class="abs" id="title">Vaccination Analysis</div>
<div class="abs" id="sub"><span style="left:0.0px">Vaccine</span><span style="left:75.2px">uptake</span><span style="left:141.0px">per</span><span style="left:175.6px">rate</span><span style="left:213.7px">ratio</span><span style="left:258.1px">Māori</span><span style="left:314.1px">and</span><span style="left:353.5px">Pasifika</span><span style="left:427.6px">–</span><span style="left:442.5px">North</span><span style="left:497.5px">Island</span><span style="left:556.6px">by</span><span style="left:583.9px">DHB</span></div>
<div class="abs" id="key">
<div>Key:</div>
<div class="li"><i>•</i>A rate of one means the groups being<br>compared are being vaccinated at the<br>same rate.</div>
<div class="li"><i>•</i>A rate over one means Māori (or<br>Pacific) are being vaccinated at a<br>higher rate than non-Māori non-Pacific.</div>
<div class="li"><i>•</i>A rate under one means Māori (or<br>Pacific) are being vaccinated at a lower<br>rate than non-Māori non-Pacific.</div>
</div>
<div class="abs" id="src">Source = <span>https://www.health.govt.nz/our-work/diseases-and-conditions/covid-19-novel-coronavirus/covid-19-data-and-statistics/covid-19-vaccine-data</span></div>
<div class="abs" id="wo">Whānau Ora</div>
<div class="abs" id="ca">COMMISSIONING AGENCY</div>
</body></html>
